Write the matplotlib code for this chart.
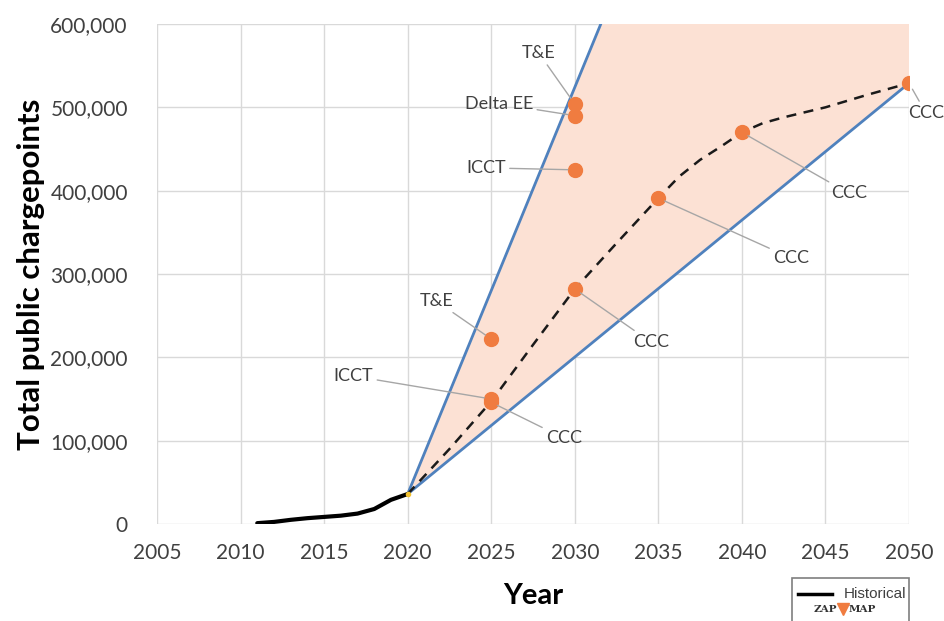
import matplotlib.pyplot as plt
import numpy as np
from matplotlib.patches import Rectangle
from matplotlib.ticker import FuncFormatter

plt.rcParams['font.family'] = ['Lato', 'DejaVu Sans']

# historical chargepoints
hist_years = [2011, 2012, 2013, 2014, 2015, 2016, 2017, 2018, 2019, 2020]
hist_vals = [1000, 2500, 5000, 7000, 8500, 10000, 12500, 18000, 29000, 36000]

# envelope lines (lower / upper bound)
low_years = [2020, 2050]
low_vals = [36000, 529000]
up_years = [2020, 2050]
up_vals = [36000, 1500000]

# CCC trajectory (dashed)
traj_years = [2020, 2022.5, 2025, 2027.5, 2030, 2032.5, 2035, 2036.25, 2037.5, 2038.75,
              2040, 2041.25, 2042.5, 2043.75, 2045, 2047.5, 2050]
traj_vals = [36000, 90000, 147000, 215000, 282000, 337000, 391000, 417000, 437000, 453000,
             470000, 481000, 488000, 494000, 500000, 515000, 529000]

# scenario points
pt_labels = ['T&E', 'Delta EE', 'ICCT', 'T&E', 'ICCT', 'CCC', 'CCC', 'CCC', 'CCC', 'CCC']
pt_years = [2030, 2030, 2030, 2025, 2025, 2025, 2030, 2035, 2040, 2050]
pt_vals = [504000, 490000, 425000, 222000, 150000, 146000, 282000, 391000, 470000, 529000]

# label offsets in pixels (layout only)
offsets = [(-36, 51), (-76, 12), (-89, 2), (-55, 38), (-138, 23),
           (73, -36), (76, -53), (133, -60), (107, -61), (17, -30)]

fig = plt.figure(figsize=(9.44, 6.21), dpi=100)
ax = fig.add_axes([157/944, 1-524/621, (909-157)/944, (524-24)/621])

blue = '#4f81bd'
orange = '#f07c40'
grey_txt = '#404040'

x_fill = np.array(low_years, dtype=float)
ax.fill_between(x_fill, low_vals, up_vals, color='#fce1d4', zorder=1, lw=0)
ax.plot(low_years, low_vals, color=blue, lw=2, zorder=3)
ax.plot(up_years, up_vals, color=blue, lw=2, zorder=3)
ax.plot(traj_years, traj_vals, color='#1a1a1a', lw=1.8, ls=(0, (4, 3)), zorder=4)
ax.plot(hist_years, hist_vals, color='black', lw=3, zorder=5, solid_capstyle='round')
ax.plot([hist_years[-1]], [hist_vals[-1]], 'o', color='#f2c12e', ms=3, zorder=6)

ax.plot(pt_years, pt_vals, 'o', color=orange, ms=10, mec=orange, zorder=6)

for lab, x, y, off in zip(pt_labels, pt_years, pt_vals, offsets):
    ax.annotate(lab, (x, y), xytext=off, textcoords='offset pixels',
                ha='center', va='center', fontsize=13, color=grey_txt,
                arrowprops=dict(arrowstyle='-', color='#a6a6a6', lw=1,
                                shrinkA=1, shrinkB=5),
                zorder=7)

ax.set_xlim(2005, 2050)
ax.set_ylim(0, 600000)
ax.set_xticks(range(2005, 2051, 5))
ax.set_yticks(range(0, 600001, 100000))
ax.yaxis.set_major_formatter(FuncFormatter(lambda v, p: f'{int(v):,}'))
ax.tick_params(length=0, labelsize=15, colors=grey_txt)
ax.tick_params(axis='y', pad=21)
ax.tick_params(axis='x', pad=14)
ax.grid(True, color='#d9d9d9', lw=1)
ax.set_axisbelow(True)
for s in ax.spines.values():
    s.set_visible(False)

ax.set_xlabel('Year', fontsize=21, fontweight='bold', color='black', labelpad=14)
ax.set_ylabel('Total public chargepoints', fontsize=22.5, fontweight='bold', color='black', labelpad=4)

# legend box with logo
fig.patches.append(Rectangle((792/944, -0.02), 117/944, (621-578)/621 + 0.02,
                             transform=fig.transFigure, fill=False, ec='#7f7f7f', lw=1.2))
fig.lines.append(plt.Line2D([798/944, 832/944], [1-594/621, 1-594/621],
                            transform=fig.transFigure, color='black', lw=2.5))
fig.text(906/944, 1-594/621, 'Historical', ha='right', va='center', fontsize=11,
         family='Liberation Sans', color=grey_txt)
fig.text(837/944, 1-610/621, 'ZAP', ha='right', va='center', fontsize=7.5,
         fontweight='bold', family='DejaVu Serif', color='#333333')
fig.text(849/944, 1-610/621, 'MAP', ha='left', va='center', fontsize=7.5,
         fontweight='bold', family='DejaVu Serif', color='#333333')
fig.lines.append(plt.Line2D([843/944], [1-609/621], transform=fig.transFigure,
                            marker='v', color=orange, ms=8))

plt.savefig('out.png', dpi=100)
